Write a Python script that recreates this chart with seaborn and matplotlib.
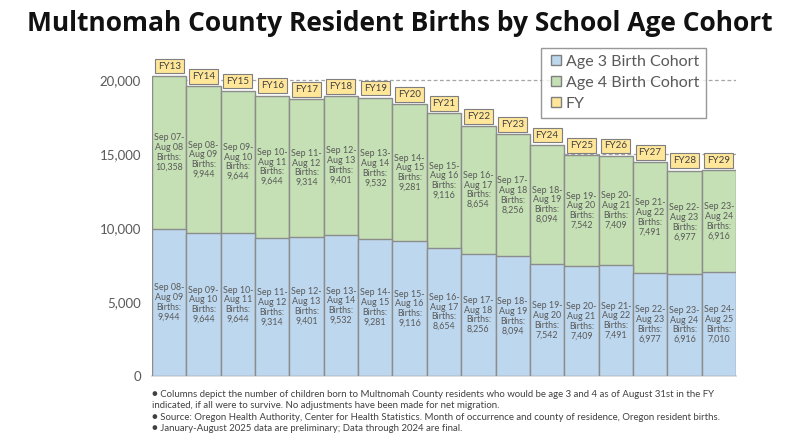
import matplotlib
matplotlib.use("Agg")
import matplotlib.pyplot as plt
import seaborn as sns
import pandas as pd
from matplotlib.lines import Line2D

fy_labels = ["FY13", "FY14", "FY15", "FY16", "FY17", "FY18", "FY19", "FY20", "FY21",
             "FY22", "FY23", "FY24", "FY25", "FY26", "FY27", "FY28", "FY29"]
age3_births = [9944, 9644, 9644, 9314, 9401, 9532, 9281, 9116, 8654,
               8256, 8094, 7542, 7409, 7491, 6977, 6916, 7010]
age4_births = [10358, 9944, 9644, 9644, 9314, 9401, 9532, 9281, 9116,
               8654, 8256, 8094, 7542, 7409, 7491, 6977, 6916]
age3_periods = ["Sep 08-\nAug 09", "Sep 09-\nAug 10", "Sep 10-\nAug 11", "Sep 11-\nAug 12",
                "Sep 12-\nAug 13", "Sep 13-\nAug 14", "Sep 14-\nAug 15", "Sep 15-\nAug 16",
                "Sep 16-\nAug 17", "Sep 17-\nAug 18", "Sep 18-\nAug 19", "Sep 19-\nAug 20",
                "Sep 20-\nAug 21", "Sep 21-\nAug 22", "Sep 22-\nAug 23", "Sep 23-\nAug 24",
                "Sep 24-\nAug 25"]
age4_periods = ["Sep 07-\nAug 08"] + age3_periods[:-1]
yticks = [0, 5000, 10000, 15000, 20000]

df = pd.DataFrame({"fy": fy_labels, "age3": age3_births, "age4": age4_births})
df["total"] = df["age3"] + df["age4"]

sns.set_theme(style="white")
plt.rcParams["font.family"] = ["Lato", "DejaVu Sans"]

BLUE = "#bdd7ee"
GREEN = "#c5e0b4"
EDGE = "#8c8c8c"
TXT = "#595959"
FY_FILL = "#ffe699"

fig = plt.figure(figsize=(8, 4.44), dpi=100)
ax = fig.add_axes([0.19, 0.153, 0.73, 0.733])

# dashed gridlines behind the bars
for yv in [15000, 20000]:
    ax.axhline(yv, color="#a6a6a6", lw=0.9, ls=(0, (3, 2)), zorder=0)

# stacked: total (green) first, then age 3 (blue) on top of it
sns.barplot(data=df, x="fy", y="total", color=GREEN, saturation=1, width=1.0,
            edgecolor=EDGE, linewidth=1.0, ax=ax, zorder=2)
sns.barplot(data=df, x="fy", y="age3", color=BLUE, saturation=1, width=1.0,
            edgecolor=EDGE, linewidth=1.0, ax=ax, zorder=3)

for i, row in df.iterrows():
    ax.text(i, row["age3"] / 2, f"{age3_periods[i]}\nBirths:\n{row['age3']:,}",
            ha="center", va="center", fontsize=6.4, color=TXT, linespacing=1.1, zorder=5)
    ax.text(i, row["age3"] + row["age4"] / 2, f"{age4_periods[i]}\nBirths:\n{row['age4']:,}",
            ha="center", va="center", fontsize=6.4, color=TXT, linespacing=1.1, zorder=5)
    ax.annotate(row["fy"], (i, row["total"]), xytext=(0, 7), textcoords="offset points",
                ha="center", va="center", fontsize=7, color="#404040", zorder=6,
                bbox=dict(boxstyle="square,pad=0.3", fc=FY_FILL, ec="#7f7f7f", lw=0.8))

ax.set_xlim(-0.5, len(df) - 0.5)
ax.set_ylim(0, 22000)
ax.set_yticks(yticks)
ax.set_yticklabels([f"{v:,}" for v in yticks], fontsize=9.5, color=TXT)
ax.tick_params(axis="y", length=0, pad=8)
ax.set_xticks([])
ax.set_xlabel("")
ax.set_ylabel("")
for s in ["top", "right", "left"]:
    ax.spines[s].set_visible(False)
ax.spines["bottom"].set_color("#d9d9d9")

handles = [
    Line2D([], [], marker="s", ls="", markersize=7, markerfacecolor=BLUE, markeredgecolor="#7f7f7f"),
    Line2D([], [], marker="s", ls="", markersize=7, markerfacecolor=GREEN, markeredgecolor="#7f7f7f"),
    Line2D([], [], marker="s", ls="", markersize=7, markerfacecolor=FY_FILL, markeredgecolor="#7f7f7f"),
]
leg = fig.legend(handles, ["Age 3 Birth Cohort", "Age 4 Birth Cohort", "FY"],
                 loc="upper left", bbox_to_anchor=(0.672, 0.9), fontsize=11.5,
                 frameon=True, fancybox=False, handletextpad=0.1, handlelength=1.0,
                 labelspacing=0.42, borderpad=0.45, borderaxespad=0.2, labelcolor=TXT)
leg.get_frame().set_edgecolor("#7f7f7f")
leg.get_frame().set_linewidth(1.0)
leg.set_zorder(10)

fig.text(0.5, 0.948, "Multnomah County Resident Births by School Age Cohort",
         ha="center", va="center", fontsize=19, fontweight="bold", color="#111111",
         family=["Open Sans", "DejaVu Sans"])

notes = [
    "\u25cf Columns depict the number of children born to Multnomah County residents who would be age 3 and 4 as of August 31st in the FY\n"
    "indicated, if all were to survive. No adjustments have been made for net migration.",
    "\u25cf Source: Oregon Health Authority, Center for Health Statistics. Month of occurrence and county of residence, Oregon resident births.",
    "\u25cf January-August 2025 data are preliminary; Data through 2024 are final.",
]
fig.text(0.19, 0.122, "\n".join(notes), ha="left", va="top", fontsize=6.9,
         color="#404040", linespacing=1.35)

fig.savefig("out.png", dpi=100)
